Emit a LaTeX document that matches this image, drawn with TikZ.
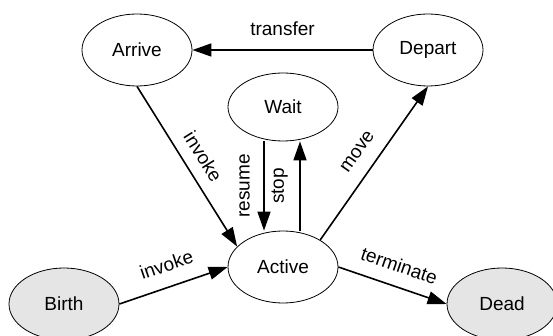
\documentclass[tikz,border=0pt]{standalone}
\usepackage{fontspec}
\setmainfont{Liberation Sans}
\usetikzlibrary{shapes.geometric,arrows.meta,calc}

\begin{document}
\begin{tikzpicture}[x=1pt,y=-1pt,font=\fontsize{19}{22}\selectfont,>={Triangle[length=19pt,width=13pt]}]
\tikzset{StateStyle/.style = {shape = ellipse, draw, line width = 0.8pt, minimum width = 110pt, minimum height = 72pt},
  EndStyle/.style = {StateStyle, fill = gray!20},
  EdgeStyle/.style = {line width = 1.6pt, ->}}
\useasboundingbox (0,0) rectangle (553,336);

\node[StateStyle] (Arrive) at (137,50) {Arrive}; \node[StateStyle] (Depart) at (428,50) {Depart};
\node[StateStyle, minimum height = 68pt] (Wait) at (283,107) {Wait}; \node[StateStyle] (Active) at (283,267) {Active};
\node[EndStyle] (Birth) at (64,304) {Birth}; \node[EndStyle] (Dead) at (502,304) {Dead};

\draw[EdgeStyle] (Depart.west) -- node[above=10pt] {transfer} (Arrive.east);
\draw[EdgeStyle] (Arrive.south) -- node[sloped, above=8pt] {invoke} (Active.156);
\draw[EdgeStyle] (Active.36) -- node[sloped, above=11pt] {move} (Depart.south);
\draw[EdgeStyle, <-] ($(Active.north)+(-19,0)$) -- node[sloped, above=10pt] {resume} ($(Wait.south)+(-19,0)$);
\draw[EdgeStyle] ($(Active.north)+(17,0)$) -- node[sloped, above=8pt] {stop} ($(Wait.south)+(17,0)$);
\draw[EdgeStyle] (Birth.east) -- node[sloped, above=11pt] {invoke} (Active.west);
\draw[EdgeStyle] (Active.east) -- node[sloped, above=10pt] {terminate} (Dead.west);
\end{tikzpicture}
\end{document}
